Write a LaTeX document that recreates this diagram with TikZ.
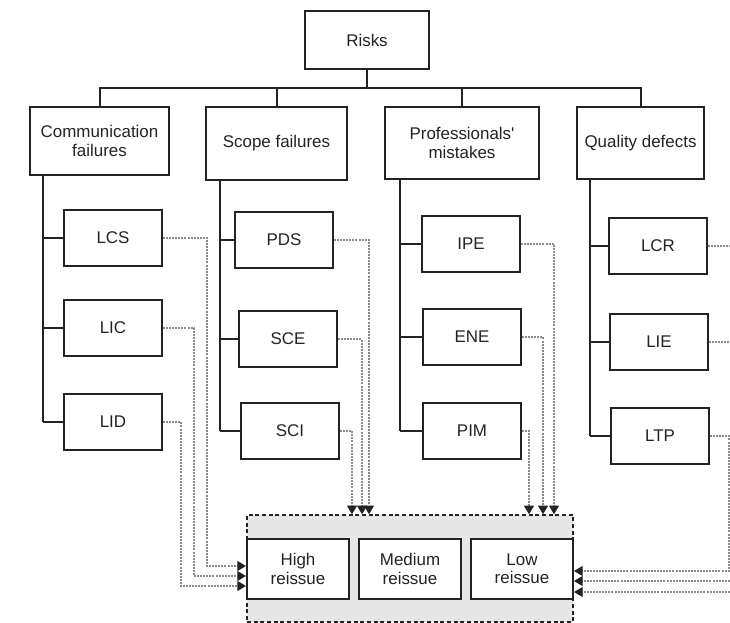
\documentclass[tikz,border=0pt]{standalone}
\usepackage{fontspec}
\setmainfont{Liberation Sans}
\usepackage{tikz}
\usetikzlibrary{calc,arrows.meta,positioning}
\definecolor{trait}{RGB}{35,35,35}
\definecolor{gris}{RGB}{140,140,140}
\definecolor{fond}{RGB}{230,230,230}
\newcommand{\feuille}[5]{
\node [leaf] (#1) at (#2,#3) {#4};
\draw (#1.west) -- (#1.west -| #5);
}

\begin{document}
\begin{tikzpicture}[x=0.75pt, y=-0.75pt, line width=1.5pt, color=trait,
  box/.style={draw, fill=white, align=center, inner sep=1pt, font=\fontsize{12.7}{13.6}\selectfont},
  risk/.style={box, minimum width=93pt, minimum height=43.5pt},
  cat/.style={box, minimum height=54pt},
  leaf/.style={box, minimum width=73.5pt, minimum height=42pt},
  level/.style={box, minimum width=76.5pt, minimum height=45pt},
  group/.style={draw, fill=fond, line width=1.1pt, dash pattern=on 3pt off 2pt, minimum width=244.5pt, minimum height=80.25pt},
  link/.style={gris, line width=0.8pt, dash pattern=on 1.5pt off 0.8pt, -{Triangle[length=6.5pt,width=7.5pt,color=trait]}}]

\useasboundingbox (0,0) rectangle (730,623);
\clip (0,0) rectangle (730,623);

\node (risks) [risk] at (367,40) {Risks};

\node (comm) [cat, minimum width=104.25pt, minimum height=51pt] at (99.5,141) {Communication\\failures};
\node (scope) [cat, minimum width=105.75pt, minimum height=54.75pt] at (276.5,143.5) {Scope failures};
\node (prof) [cat, minimum width=115.5pt] at (462,143) {Professionals\textquotesingle\\mistakes};
\node (qual) [cat, minimum width=95.25pt] at (640.5,143) {Quality defects};

% tree
\coordinate (bus) at (367,88);
\draw (risks.south) -- (risks.south |- bus);
\draw (comm.north) -- (comm.north |- bus) -- (qual.north |- bus) -- (qual.north);
\draw (scope.north) -- (scope.north |- bus);
\draw (prof.north) -- (prof.north |- bus);

\coordinate (commbar) at ($(comm.south west)+(14,0)$);
\coordinate (scopebar) at ($(scope.south west)+(15,0)$);
\coordinate (profbar) at ($(prof.south west)+(16,0)$);
\coordinate (qualbar) at ($(qual.south west)+(14,0)$);

\feuille{lcs}{113}{238}{LCS}{commbar}
\feuille{lic}{113}{328}{LIC}{commbar}
\feuille{lid}{113}{422}{LID}{commbar}
\feuille{pds}{284}{240}{PDS}{scopebar}
\feuille{sce}{288}{339}{SCE}{scopebar}
\feuille{sci}{290}{431}{SCI}{scopebar}
\feuille{ipe}{471}{244}{IPE}{profbar}
\feuille{ene}{472}{337}{ENE}{profbar}
\feuille{pim}{472}{431}{PIM}{profbar}
\feuille{lcr}{658}{246}{LCR}{qualbar}
\feuille{lie}{659}{342}{LIE}{qualbar}
\feuille{ltp}{660}{436}{LTP}{qualbar}

\draw (commbar) -- (commbar |- lid.west);
\draw (scopebar) -- (scopebar |- sci.west);
\draw (profbar) -- (profbar |- pim.west);
\draw (qualbar) -- (qualbar |- ltp.west);

% reissue levels
\node (group) [group] at (410,568.5) {};
\node (high) [level] at (298,569) {High\\reissue};
\node (medium) [level] at (410,569) {Medium\\reissue};
\node (low) [level] at (522,569) {Low\\reissue};

\draw [link] (lcs.east) -| ($(high.west)+(-39,-3)$) -- ($(high.west)+(0,-3)$);
\draw [link] (lic.east) -| ($(high.west)+(-52,7)$) -- ($(high.west)+(0,7)$);
\draw [link] (lid.east) -| ($(high.west)+(-65,17)$) -- ($(high.west)+(0,17)$);

\draw [link] (pds.east) -| ($(group.north)+(-41,0)$);
\draw [link] (sce.east) -| ($(group.north)+(-48,0)$);
\draw [link] (sci.east) -| ($(group.north)+(-58,0)$);
\draw [link] (ipe.east) -| ($(group.north)+(144,0)$);
\draw [link] (ene.east) -| ($(group.north)+(133,0)$);
\draw [link] (pim.east) -| ($(group.north)+(119,0)$);

\draw [link] (ltp.east) -| ($(low.east)+(155,2)$) -- ($(low.east)+(0,2)$);
\draw [link] (lie.east) -| ($(low.east)+(167,12)$) -- ($(low.east)+(0,12)$);
\draw [link] (lcr.east) -| ($(low.east)+(179,23)$) -- ($(low.east)+(0,23)$);

\end{tikzpicture}
\end{document}
